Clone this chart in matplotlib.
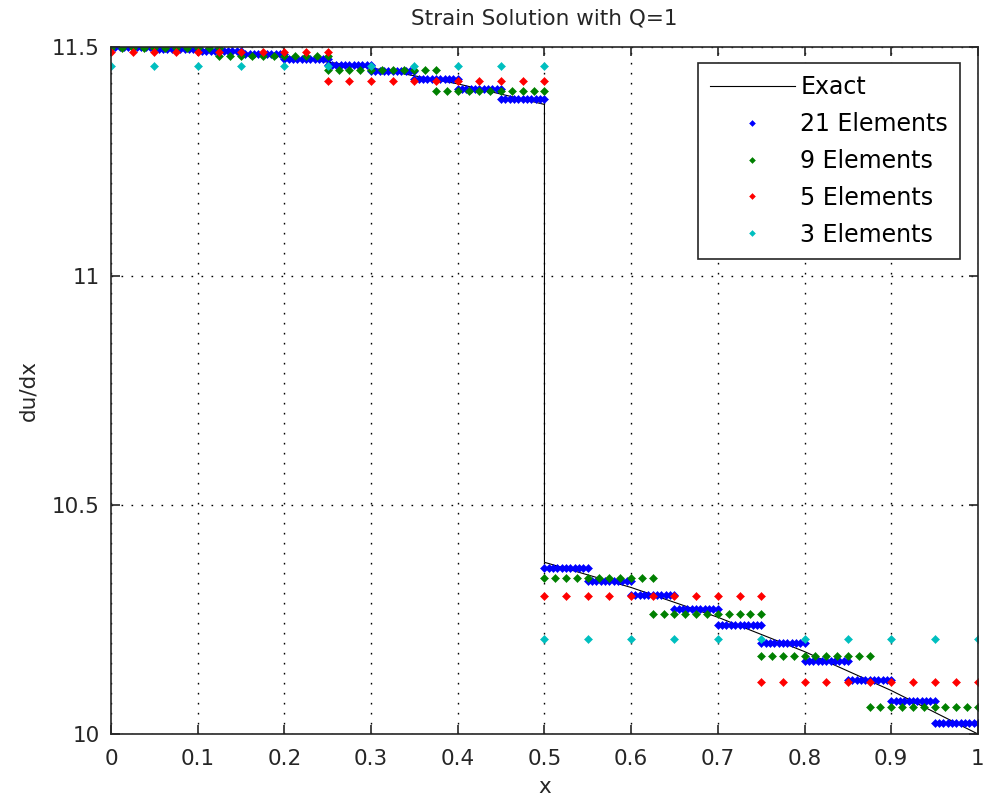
import numpy as np
import matplotlib
matplotlib.use("Agg")
import matplotlib.pyplot as plt

# exact strain
exact_x = [0.0, 0.1, 0.2, 0.3, 0.4, 0.5, 0.5, 0.6, 0.7, 0.8, 0.9, 1.0]
exact_y = [11.5, 11.495, 11.48, 11.455, 11.42, 11.375,
           10.375, 10.32, 10.255, 10.18, 10.095, 10.0]

# element strain values (constant per element), left to right
elem_21 = [11.4996, 11.4971, 11.4921, 11.4846, 11.4746, 11.4621, 11.4471,
           11.4296, 11.4096, 11.3871, 10.3621, 10.3346, 10.3046, 10.2721,
           10.2371, 10.1996, 10.1596, 10.1171, 10.0721, 10.0246]
elem_9 = [11.4974, 11.4818, 11.4505, 11.4036, 10.3411, 10.263, 10.1693, 10.0599]
elem_5 = [11.4896, 11.4271, 10.3021, 10.1146]
elem_3 = [11.4583, 10.2083]

series = [(elem_21, '21 Elements', (0, 0, 1)),
          (elem_9, '9 Elements', (0, 0.5, 0)),
          (elem_5, '5 Elements', (1, 0, 0)),
          (elem_3, '3 Elements', (0, 0.75, 0.75))]
pts_per_elem = 11

xticks = [0, 0.1, 0.2, 0.3, 0.4, 0.5, 0.6, 0.7, 0.8, 0.9, 1]
xtick_labels = ['0', '0.1', '0.2', '0.3', '0.4', '0.5', '0.6', '0.7', '0.8', '0.9', '1']
yticks = [10, 10.5, 11, 11.5]
ytick_labels = ['10', '10.5', '11', '11.5']

plt.rcParams['font.family'] = ['DejaVu Sans']
fs = 15.5
ink = '#262626'

fig = plt.figure(figsize=(9.84, 8.0), dpi=100)
ax = fig.add_axes([0.1128, 0.0825, 0.881, 0.8585])

ax.plot(exact_x, exact_y, color='k', lw=0.8, label='Exact')

for vals, name, col in series:
    edges = np.linspace(0, 1, len(vals) + 1)
    xs, ys = [], []
    for i, v in enumerate(vals):
        xs.extend(np.linspace(edges[i], edges[i + 1], pts_per_elem))
        ys.extend([v] * pts_per_elem)
    ax.plot(xs, ys, ls='none', marker='D', ms=3.7, mew=0.4,
            mfc=col, mec=col, label=name)

ax.set_xlim(0, 1)
ax.set_ylim(10, 11.5)
ax.set_xticks(xticks)
ax.set_xticklabels(xtick_labels)
ax.set_yticks(yticks)
ax.set_yticklabels(ytick_labels)

ax.grid(True, color='k', lw=1.0, linestyle=(0, (1.2, 6)))
ax.tick_params(direction='in', length=6.5, width=1.2, colors=ink,
               labelsize=fs, top=True, right=True)
ax.tick_params(axis='x', pad=10.5)
ax.tick_params(axis='y', pad=8)
for sp in ax.spines.values():
    sp.set_linewidth(1.2)
    sp.set_color(ink)

ax.set_title('Strain Solution with Q=1', fontsize=fs, color=ink, pad=16)
ax.set_xlabel('x', fontsize=fs, color=ink, labelpad=6)
ax.set_ylabel('du/dx', fontsize=fs, color=ink, labelpad=10)

leg = ax.legend(loc='upper right', bbox_to_anchor=(0.979, 0.977),
                borderaxespad=0, fontsize=17, handlelength=3.6,
                handletextpad=0.22, labelspacing=0.55, borderpad=0.5,
                markerscale=0.8, fancybox=False, framealpha=1, edgecolor=ink)
leg.get_frame().set_linewidth(1.2)

fig.savefig('out.png', dpi=100, facecolor='white')
